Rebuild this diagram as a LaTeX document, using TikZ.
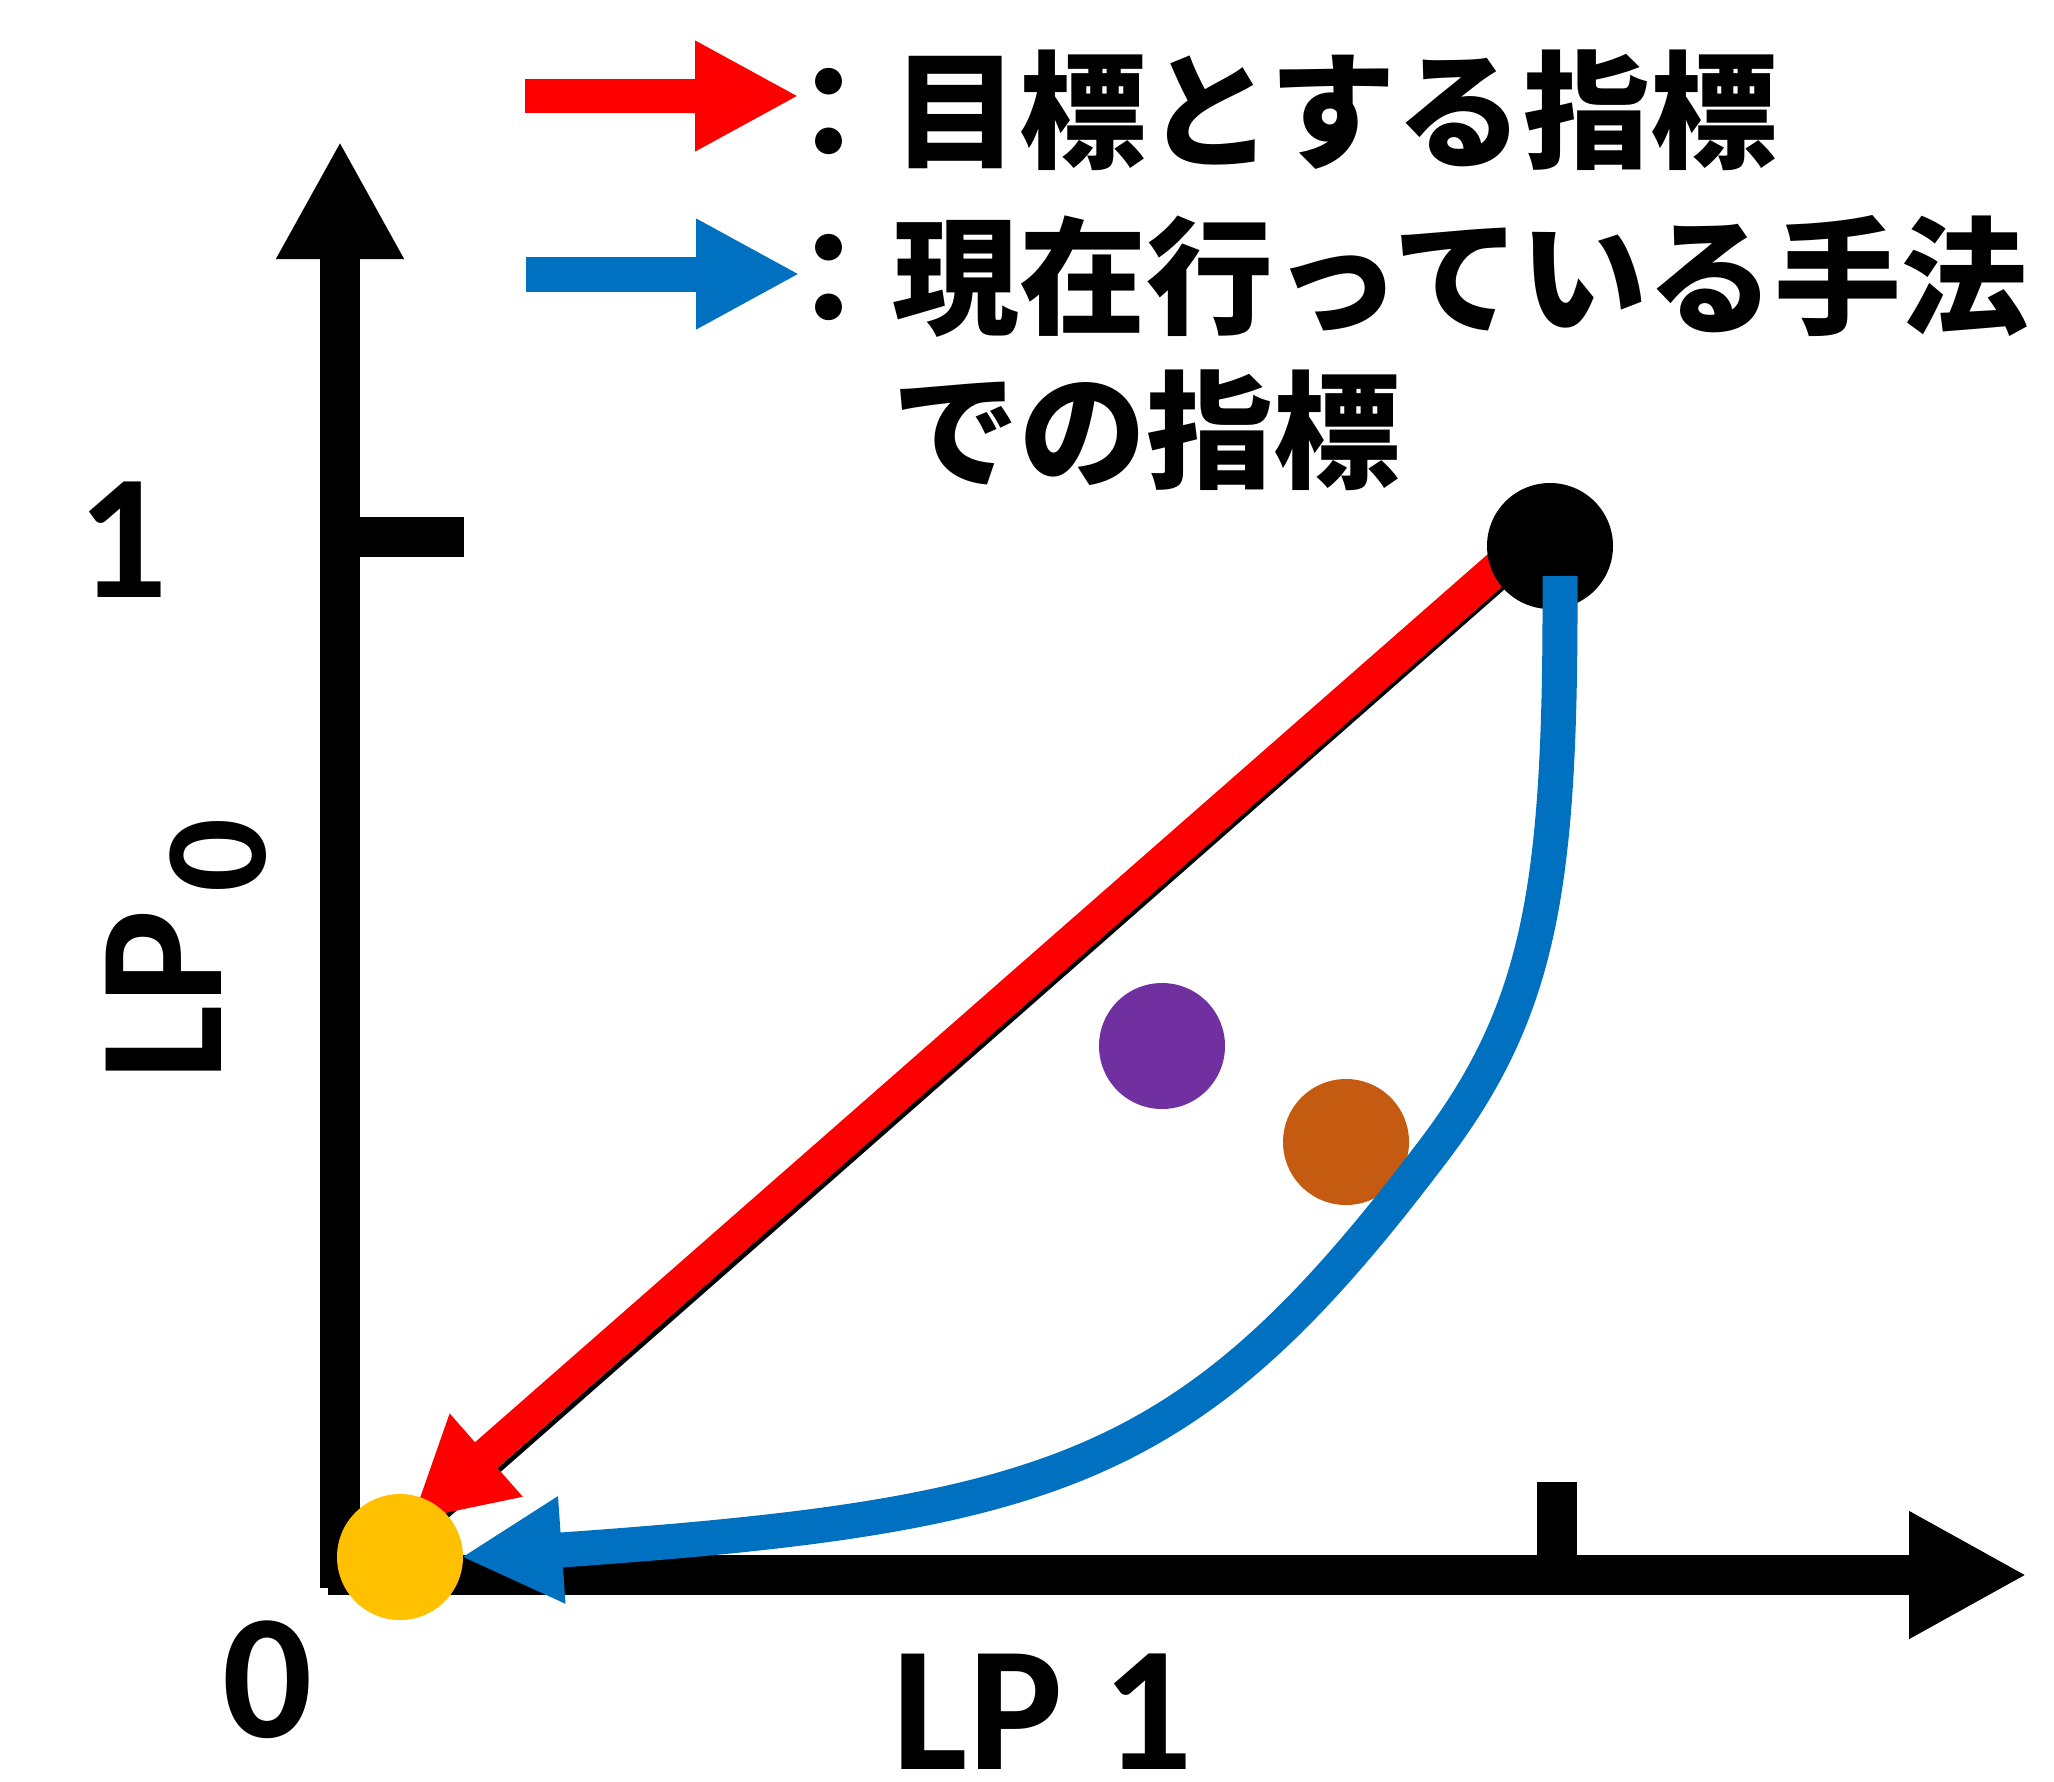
\documentclass[tikz,border=0pt]{standalone}
\usepackage{fontspec}
\setmainfont{Carlito}
\newfontfamily\jpfont{Noto Sans CJK JP}
\usetikzlibrary{arrows.meta,calc}
\definecolor{pptred}{HTML}{FF0000}
\definecolor{pptblue}{HTML}{0070C0}
\definecolor{pptpurple}{HTML}{7030A0}
\definecolor{pptorange}{HTML}{C55A11}
\definecolor{pptyellow}{HTML}{FFC000}
\begin{document}
\begin{tikzpicture}[x=1pt,y=-1pt,
  dot/.style={circle, minimum size=126pt, inner sep=0pt, draw=none},
  axisline/.style={line width=40pt, draw=black},
  axishead/.style={-{Triangle[length=118pt,width=119pt]}},
  lbl/.style={font=\fontsize{178pt}{178pt}\selectfont\bfseries, inner sep=0pt},
  sublbl/.style={font=\fontsize{146pt}{146pt}\selectfont\bfseries, inner sep=0pt},
  jp/.style={font=\fontsize{127pt}{127pt}\selectfont\jpfont\bfseries, inner sep=0pt, anchor=west},
  redarrow/.style={line width=34pt, draw=pptred, -{Triangle[length=100pt,width=103pt]}},
  bluearrow/.style={line width=35pt, draw=pptblue, -{Triangle[length=101pt,width=100pt]}},
  legred/.style={line width=34pt, draw=pptred, -{Triangle[length=104pt,width=103pt]}},
  legblue/.style={line width=35pt, draw=pptblue, -{Triangle[length=104pt,width=103pt]}},
]
\useasboundingbox (0,0) rectangle (2054,1781);

% axes
\coordinate (ybot) at (340,1588);
\coordinate (ytop) at (340,141);
\coordinate (xleft) at (328,1575);
\coordinate (xright) at (2027,1575);
\draw[axisline, axishead] (ybot) -- (ytop);
\draw[axisline, axishead] (xleft) -- (xright);
\coordinate (ytick0) at (340,537);
\coordinate (ytick1) at (464,537);
\coordinate (xtick0) at (1557,1575);
\coordinate (xtick1) at (1557,1482);
\draw[axisline] (ytick0) -- (ytick1);
\draw[axisline] (xtick0) -- (xtick1);

% axis labels
\node[lbl] (one) at (123,540) {1};
\node[lbl] (zero) at (268,1680) {0};
\node[lbl] (lpone) at (1043,1712) {LP 1};
\node[lbl, rotate=90] (lpzero) at (163.5,995) {LP};
\node[sublbl, rotate=90] (lpzerosub) at (218.5,855.5) {0};

% points
\coordinate (hic) at (1550,546);
\coordinate (loc) at (400,1557);
\draw[line width=5pt, black] (hic) -- (loc);
\coordinate (redstart) at (1516,552);
\coordinate (redtip) at (411,1521);
\draw[redarrow] (redstart) -- (redtip);
\node[dot, fill=black] (hi) at (hic) {};
\node[dot, fill=pptpurple] (midA) at (1162,1046) {};
\node[dot, fill=pptorange] (midB) at (1346,1142) {};

\coordinate (bluestart) at (1560,576);
\coordinate (bluebend) at (1434,1150);
\coordinate (bluetip) at (461,1557);
\draw[bluearrow] (bluestart) .. controls (1561,880) and (1543,1006) .. (bluebend)
   .. controls (1193,1469) and (1061,1515) .. (bluetip);
\node[dot, fill=pptyellow] (lo) at (loc) {};

% legend
\coordinate (lr0) at (525,96);
\coordinate (lr1) at (799,96);
\coordinate (lb0) at (526,274);
\coordinate (lb1) at (800,274);
\draw[legred] (lr0) -- (lr1);
\draw[legblue] (lb0) -- (lb1);
\node[jp] (legA) at (765,110) {：目標とする指標};
\node[jp] (legB) at (765,276) {：現在行っている手法};
\node[jp] (legC) at (892,430) {での指標};
\end{tikzpicture}
\end{document}
